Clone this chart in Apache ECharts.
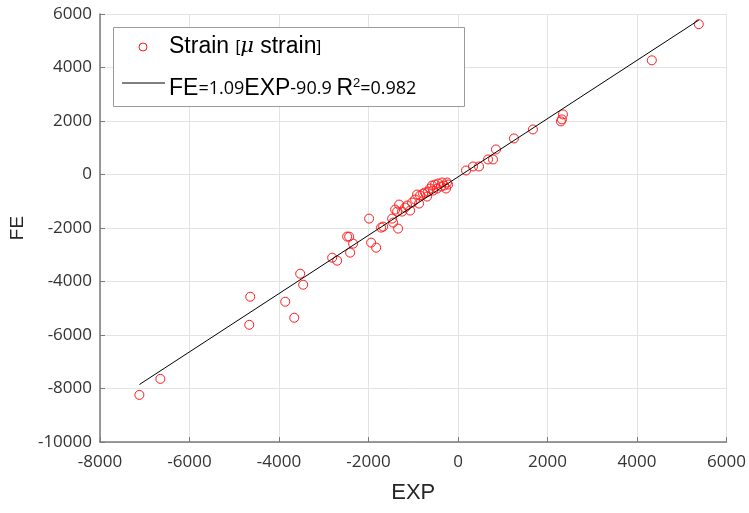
<!DOCTYPE html>
<html>
<head>
<meta charset="utf-8">
<script src="https://cdn.jsdelivr.net/npm/echarts@6/dist/echarts.min.js"></script>
<style>html,body{margin:0;padding:0;background:#fff;}#c{width:749px;height:513px;}</style>
</head>
<body>
<div id="c"></div>
<script>
// EXP (x) values
const expValues = [
  -7120, -6651, -4643, -4665, -3861, -3660, -3527, -3460, -2812, -2701,
  -2478, -2433, -2344, -2411, -1987, -1942, -1830, -1719,
  -1674, -1339, -1451, -1473, -1406, -1317, -1362, -1250, -1138, -1071,
  -1027, -915, -871, -848, -781, -737, -692, -625, -580, -513,
  -469, -446, -379, -357, -312, -246, -268, -223, -558, -670, -960, -1183,
  179, 335, 469, 670, 781, 848, 1250, 1674, 2299, 2321, 2344, 4330, 5379
];
// FE (y) values
const feValues = [
  -8239, -7640, -4569, -5618, -4756, -5355, -3708, -4120, -3109, -3221,
  -2322, -2322, -2584, -2921, -1648, -2547, -2734, -1985,
  -1948, -2022, -1798, -1648, -1311, -1124, -1386, -1386, -1161, -1348,
  -1049, -749, -1086, -786, -712, -674, -824, -524, -412, -375,
  -524, -337, -449, -300, -412, -300, -524, -375, -600, -640, -936, -1236,
  150, 300, 300, 562, 562, 936, 1348, 1685, 1985, 2060, 2247, 4269, 5618
];
const fitSlope = 1.09;
const fitIntercept = -90.9;
const xTicks = [-8000, -6000, -4000, -2000, 0, 2000, 4000, 6000];
const yTicks = [-10000, -8000, -6000, -4000, -2000, 0, 2000, 4000, 6000];

const points = expValues.map((x, i) => [x, feValues[i]]);
const xMin = Math.min(...expValues), xMax = Math.max(...expValues);
const fitLine = [xMin, xMax].map(x => [x, fitSlope * x + fitIntercept]);

const chart = echarts.init(document.getElementById('c'), null, {renderer: 'canvas'});
const tickFont = {fontFamily: 'Open Sans', fontSize: 17, color: '#333', formatter: v => String(v)};
const sansBig = {fontFamily: 'Liberation Sans', fontSize: 23, color: '#000'};
const sansSmall = {fontFamily: 'Open Sans', fontSize: 18, color: '#000'};

chart.setOption({
  animation: false,
  backgroundColor: '#fff',
  grid: {left: 100, right: 22, top: 14, bottom: 71, containLabel: false},
  xAxis: {
    type: 'value', min: xTicks[0], max: xTicks[xTicks.length - 1], interval: 2000,
    name: 'EXP', nameLocation: 'middle', nameGap: 40,
    nameTextStyle: {fontFamily: 'Liberation Sans', fontSize: 22, color: '#262626'},
    axisLine: {show: true, onZero: false, lineStyle: {color: '#7a7a7a', width: 1.5}},
    axisTick: {show: true, inside: true, length: 5, lineStyle: {color: '#7a7a7a'}},
    axisLabel: Object.assign({margin: 12}, tickFont),
    splitLine: {show: true, lineStyle: {color: '#e3e3e3', width: 1}}
  },
  yAxis: {
    type: 'value', min: yTicks[0], max: yTicks[yTicks.length - 1], interval: 2000,
    name: 'FE', nameLocation: 'middle', nameGap: 70,
    nameTextStyle: {fontFamily: 'Liberation Sans', fontSize: 19, color: '#262626'},
    axisLine: {show: true, onZero: false, lineStyle: {color: '#7a7a7a', width: 1.5}},
    axisTick: {show: true, inside: true, length: 5, lineStyle: {color: '#7a7a7a'}},
    axisLabel: Object.assign({margin: 8}, tickFont),
    splitLine: {show: true, lineStyle: {color: '#e3e3e3', width: 1}}
  },
  series: [
    {
      name: 'Strain', type: 'scatter', data: points,
      symbol: 'circle', symbolSize: 9,
      itemStyle: {color: 'rgba(255,255,255,0)', borderColor: '#ff1a1a', borderWidth: 1, opacity: 1},
      z: 3
    },
    {
      name: 'fit', type: 'line', data: fitLine, showSymbol: false, symbol: 'none',
      lineStyle: {color: '#000', width: 1}, z: 4
    }
  ],
  graphic: [
    {type: 'rect', z: 100, shape: {x: 113.5, y: 27.5, width: 351, height: 79},
     style: {fill: '#fff', stroke: '#9a9a9a', lineWidth: 1}},
    {type: 'circle', z: 101, shape: {cx: 143, cy: 47, r: 4},
     style: {fill: '#fff', stroke: '#ff1a1a', lineWidth: 1}},
    {type: 'line', z: 101, shape: {x1: 122, y1: 83, x2: 165, y2: 83},
     style: {stroke: '#000', lineWidth: 1}},
    {type: 'text', z: 101, x: 169, y: 47,
     style: {
       text: '{a|Strain }{b|[}{m|μ}{a| strain}{b|]}',
       verticalAlign: 'middle', align: 'left',
       rich: {
         a: sansBig,
         b: {fontFamily: 'Liberation Sans', fontSize: 17, color: '#000'},
         m: {fontFamily: 'DejaVu Serif', fontStyle: 'italic', fontSize: 21, color: '#000'}
       }
     }},
    {type: 'text', z: 101, x: 169, y: 89,
     style: {
       text: '{a|FE}{b|=1.09}{a|EXP}{b|-90.9 }{a|R}{s|2}{b|=0.982}',
       verticalAlign: 'middle', align: 'left',
       rich: {
         a: sansBig,
         b: sansSmall,
         s: {fontFamily: 'Liberation Sans', fontSize: 13, color: '#000', verticalAlign: 'top', padding: [0, 0, 12, 0]}
       }
     }}
  ]
});
</script>
</body>
</html>
